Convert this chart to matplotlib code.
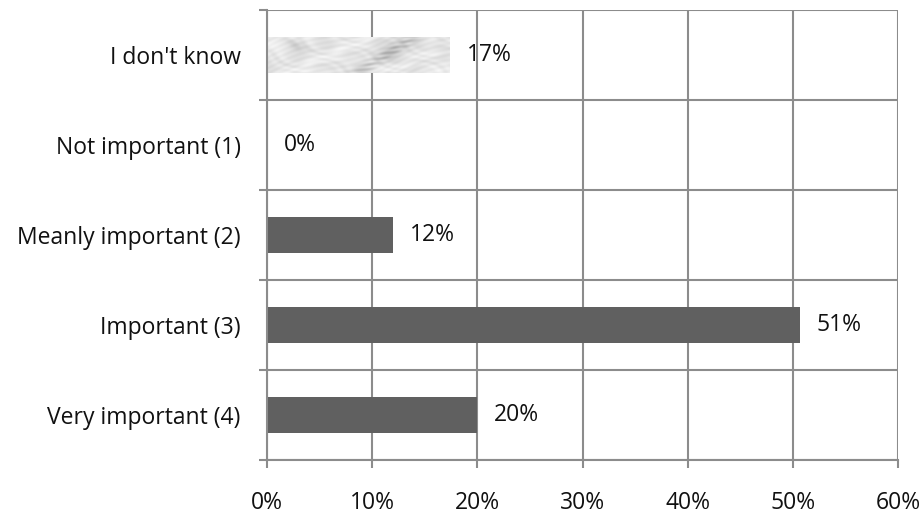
import numpy as np
import matplotlib
matplotlib.use("Agg")
import matplotlib.pyplot as plt
from matplotlib.ticker import FixedLocator, FuncFormatter

categories = ["I don't know", "Not important (1)", "Meanly important (2)",
              "Important (3)", "Very important (4)"]
values = [17.4, 0.0, 12.0, 50.7, 20.0]   # percent
x_ticks = [0, 10, 20, 30, 40, 50, 60]

plt.rcParams['font.family'] = ['Open Sans', 'DejaVu Sans']
FS = 16.5

fig = plt.figure(figsize=(9.23, 5.16), dpi=100)
ax = fig.add_axes([267/923, 1 - 460/516, 631/923, 450/516])

n = len(categories)
ypos = np.arange(n)[::-1]          # first category at the top
bar_color = "#606060"
grid_color = "#8c8c8c"
text_color = "#111111"

bars = ax.barh(ypos, values, height=0.39, color=bar_color, zorder=2)

# marbled fill for the "I don't know" bar
marble_bar = bars[0]
marble_bar.set_facecolor("none")
gx, gy = np.meshgrid(np.linspace(0, 1, 300), np.linspace(0, 1, 50))
warp = 0.08 * np.sin(5 * gy + 11 * gx) + 0.05 * np.sin(23 * gx - 7 * gy)
pattern = (0.91
           + 0.025 * np.sin(14 * (gx + warp) + 6 * gy)
           + 0.02 * np.sin(37 * (gx - warp) - 19 * gy)
           + 0.015 * np.sin(71 * gx + 41 * gy + 4 * np.sin(9 * gx))
           - 0.16 * np.exp(-((gx + 0.3 * gy - 0.80) ** 2) / 0.003)
           * (0.6 + 0.4 * np.sin(45 * gy + 20 * gx))
           - 0.07 * np.exp(-((gx - 0.70) ** 2) / 0.01 - ((gy - 0.4) ** 2) / 0.1)
           - 0.08 * np.exp(-((gx - 0.2 * gy - 0.12) ** 2) / 0.002 - ((gy - 0.25) ** 2) / 0.03)
           - 0.06 * np.exp(-((gx - 0.95) ** 2) / 0.003 - ((gy - 0.2) ** 2) / 0.03))
x0 = marble_bar.get_x()
y0 = marble_bar.get_y()
im = ax.imshow(np.clip(pattern, 0, 1), cmap="gray", vmin=0, vmax=1,
               extent=[x0, x0 + marble_bar.get_width(), y0, y0 + marble_bar.get_height()],
               aspect="auto", zorder=2, interpolation="bilinear")
im.set_clip_path(marble_bar)

# value labels
for y, v in zip(ypos, values):
    ax.annotate(f"{v:.0f}%", xy=(v, y), xytext=(12, 0), textcoords="offset points",
                ha="left", va="center", fontsize=FS, color=text_color, zorder=3)

ax.set_xlim(0, 60)
ax.set_ylim(-0.5, n - 0.5)

# x axis
ax.xaxis.set_major_locator(FixedLocator(x_ticks))
ax.xaxis.set_major_formatter(FuncFormatter(lambda v, p: f"{v:.0f}%"))
ax.tick_params(axis="x", which="major", length=6, width=1.5, color=grid_color,
               direction="out", pad=16, labelsize=FS, labelcolor=text_color)

# y axis: ticks on category boundaries, labels at category centers
ax.yaxis.set_major_locator(FixedLocator(np.arange(-0.5, n, 1.0)))
ax.yaxis.set_major_formatter(FuncFormatter(lambda v, p: ""))
ax.yaxis.set_minor_locator(FixedLocator(ypos))
ax.set_yticklabels(categories, minor=True)
ax.tick_params(axis="y", which="major", length=6, width=1.5, color=grid_color,
               direction="out")
ax.tick_params(axis="y", which="minor", length=0, pad=19, labelsize=FS,
               labelcolor=text_color)

ax.grid(True, which="major", color=grid_color, linewidth=1.5)
ax.set_axisbelow(True)

for side in ["top", "right"]:
    ax.spines[side].set_visible(False)
for side in ["left", "bottom"]:
    ax.spines[side].set_color(grid_color)
    ax.spines[side].set_linewidth(1.5)

fig.savefig("out.png", dpi=100, facecolor="white")
